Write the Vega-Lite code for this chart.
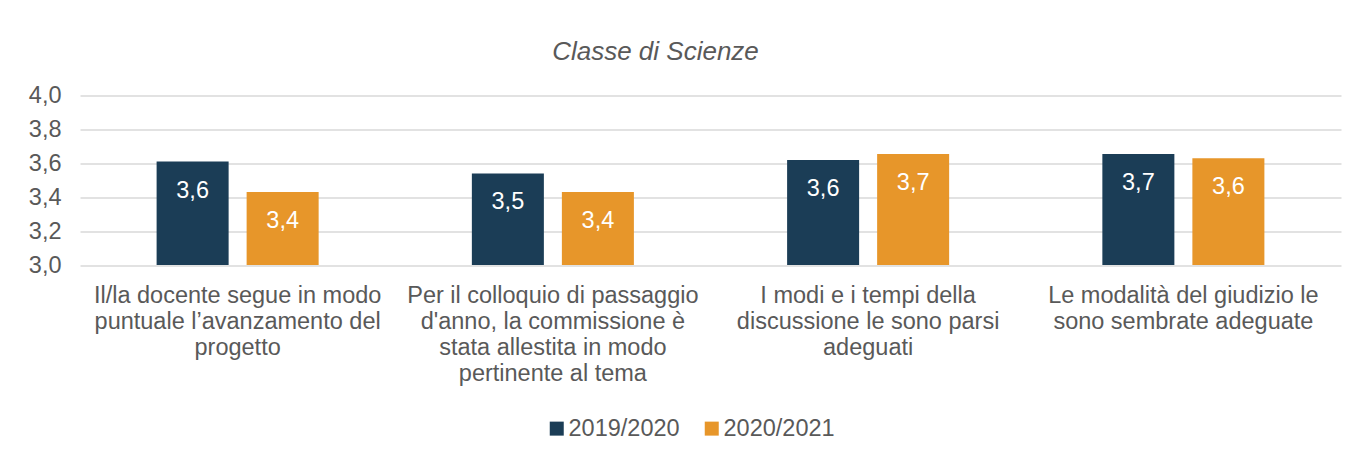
{
  "$schema": "https://vega.github.io/schema/vega-lite/v6.json",
  "autosize": "none",
  "width": 1261,
  "height": 169.5,
  "padding": {"left": 80, "top": 95.5, "right": 19, "bottom": 194},
  "background": "white",
  "title": {
    "text": "Classe di Scienze",
    "font": "Liberation Sans",
    "fontSize": 26,
    "fontStyle": "italic",
    "fontWeight": "normal",
    "color": "#595959",
    "anchor": "middle",
    "dx": -55,
    "offset": 19
  },
  "data": {
    "values": [
      {"cat": "Il/la docente segue in modo|puntuale l’avanzamento del|progetto", "year": "2019/2020", "v": 3.61},
      {"cat": "Il/la docente segue in modo|puntuale l’avanzamento del|progetto", "year": "2020/2021", "v": 3.43},
      {"cat": "Per il colloquio di passaggio|d'anno, la commissione è|stata allestita in modo|pertinente al tema", "year": "2019/2020", "v": 3.54},
      {"cat": "Per il colloquio di passaggio|d'anno, la commissione è|stata allestita in modo|pertinente al tema", "year": "2020/2021", "v": 3.43},
      {"cat": "I modi e i tempi della|discussione le sono parsi|adeguati", "year": "2019/2020", "v": 3.62},
      {"cat": "I modi e i tempi della|discussione le sono parsi|adeguati", "year": "2020/2021", "v": 3.655},
      {"cat": "Le modalità del giudizio le|sono sembrate adeguate", "year": "2019/2020", "v": 3.655},
      {"cat": "Le modalità del giudizio le|sono sembrate adeguate", "year": "2020/2021", "v": 3.63}
    ]
  },
  "encoding": {
    "x": {
      "field": "cat",
      "type": "nominal",
      "sort": null,
      "scale": {"paddingInner": 0.486, "paddingOuter": 0.243},
      "axis": {
        "title": null,
        "labelAngle": 0,
        "labelExpr": "split(datum.label, '|')",
        "labelFont": "Liberation Sans",
        "labelFontSize": 23.5,
        "labelColor": "#595959",
        "labelLineHeight": 26,
        "labelPadding": 18,
        "labelLimit": 400,
        "domain": false,
        "ticks": false
      }
    },
    "xOffset": {
      "field": "year",
      "type": "nominal",
      "scale": {"paddingInner": 0.2, "paddingOuter": 0}
    },
    "y": {
      "field": "v",
      "type": "quantitative",
      "scale": {"domain": [3, 4], "zero": false, "nice": false},
      "axis": {
        "title": null,
        "values": [3, 3.2, 3.4, 3.6, 3.8, 4],
        "labelExpr": "replace(format(datum.value, '.1f'), '.', ',')",
        "labelFont": "Liberation Sans",
        "labelFontSize": 23.5,
        "labelColor": "#595959",
        "labelPadding": 19,
        "domain": false,
        "ticks": false,
        "gridColor": "#D9D9D9",
        "gridWidth": 1.4
      }
    }
  },
  "layer": [
    {
      "mark": {"type": "bar", "clip": true},
      "encoding": {
        "color": {
          "field": "year",
          "type": "nominal",
          "scale": {"domain": ["2019/2020", "2020/2021"], "range": ["#1B3D56", "#E7962A"]},
          "legend": {
            "title": null,
            "orient": "none",
            "direction": "horizontal",
            "legendX": 465,
            "legendY": 321,
            "symbolType": "square",
            "symbolSize": 196,
            "symbolStrokeWidth": 0,
            "labelFont": "Liberation Sans",
            "labelFontSize": 23.5,
            "labelColor": "#595959",
            "labelOffset": 0,
            "columnPadding": 20
          }
        }
      }
    },
    {
      "mark": {
        "type": "text",
        "color": "white",
        "font": "Liberation Sans",
        "fontSize": 23.5,
        "baseline": "middle",
        "dy": 29
      },
      "encoding": {
        "text": {"field": "lab"}
      },
      "transform": [
        {"calculate": "replace(format(datum.v, '.1f'), '.', ',')", "as": "lab"}
      ]
    }
  ],
  "config": {
    "view": {"stroke": null}
  }
}
